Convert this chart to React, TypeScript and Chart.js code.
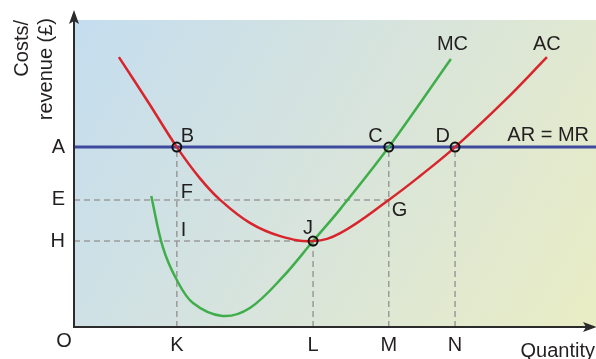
import React, { useEffect, useRef } from 'react';
import { Chart, registerables } from 'chart.js';

Chart.register(...registerables);

const FONT = '"Liberation Sans", Arial, Helvetica, sans-serif';
const TEXT = '#231f20';

// Quantity positions (x) and cost/revenue levels (y)
const xTickValues = [19.7, 45.8, 60.3, 73.0];
const xTickLabels = ['K', 'L', 'M', 'N'];
const yTickValues = [58.6, 41.4, 28.0];
const yTickLabels = ['A', 'E', 'H'];

// Average cost curve (AC)
const acX = [8.6, 14.2, 19.7, 24.1, 28.0, 33.7, 39.5, 45.8, 51.0, 60.3, 66.3, 73.0, 82.6, 90.6];
const acY = [87.9, 73.3, 58.6, 48.5, 41.4, 33.9, 29.6, 28.0, 30.6, 41.4, 49.2, 58.6, 73.9, 87.9];

// Marginal cost curve (MC)
const mcX = [14.8, 17.0, 19.7, 22.8, 28.4, 33.7, 40.0, 45.8, 51.0, 60.3, 72.2];
const mcY = [42.7, 26.1, 15.3, 7.8, 3.6, 6.2, 16.3, 28.0, 38.4, 58.6, 87.3];

// AR = MR price line
const arX = [0, 100];
const arY = [58.6, 58.6];

const [K, L, M, N] = xTickValues;
const [A, E, H] = yTickValues;

// Marked points B, C, D, J
const markX = [K, M, N, L];
const markY = [A, A, A, H];

// Text labels anchored to data points (value coords) with pixel nudges
const labelText = ['B', 'C', 'D', 'F', 'G', 'I', 'J', 'MC', 'AC', 'AR = MR'];
const labelX = [K, M, N, K, M, K, L, mcX[mcX.length - 1], acX[acX.length - 1], 100];
const labelY = [A, A, A, E, E, H, H, mcY[mcY.length - 1], acY[acY.length - 1], A];
const labelDx = [4, -6, -5, 4, 3, 4, 0, -14, -14, -7];
const labelDy = [-5, -5, -5, -2, 16, -5, -7, -9, -7, -6];
const labelAlign: CanvasTextAlign[] = ['left', 'right', 'right', 'left', 'left', 'left', 'right', 'left', 'left', 'right'];

const pts = (xs: number[], ys: number[]) => xs.map((x, i) => ({ x, y: ys[i] }));

const dashed = (a: { x: number; y: number }, b: { x: number; y: number }) => ({
  data: [a, b],
  borderColor: '#9a9a9a',
  borderWidth: 1.5,
  borderDash: [6, 4],
  pointRadius: 0,
  order: 4,
});

export default function App() {
  const ref = useRef<HTMLCanvasElement>(null);

  useEffect(() => {
    const canvas = ref.current!;
    const decor = {
      id: 'decor',
      beforeDraw(chart: any) {
        const { ctx, chartArea } = chart;
        const g = ctx.createLinearGradient(chartArea.left, chartArea.top, chartArea.right, chartArea.bottom);
        g.addColorStop(0, '#c4ddef');
        g.addColorStop(0.5, '#d8e4dc');
        g.addColorStop(1, '#e9edc4');
        ctx.save();
        ctx.fillStyle = g;
        ctx.fillRect(chartArea.left, chartArea.top, chartArea.right - chartArea.left, chartArea.bottom - chartArea.top);
        ctx.restore();
      },
      afterDraw(chart: any) {
        const { ctx, chartArea, scales } = chart;
        const x0 = chartArea.left;
        const y0 = chartArea.bottom;
        ctx.save();
        ctx.strokeStyle = '#2b2b2b';
        ctx.fillStyle = '#2b2b2b';
        ctx.lineWidth = 2;
        ctx.beginPath();
        ctx.moveTo(x0, y0 + 1);
        ctx.lineTo(x0, 20);
        ctx.moveTo(x0 - 1, y0);
        ctx.lineTo(chartArea.right - 8, y0);
        ctx.stroke();
        // y arrow
        ctx.beginPath();
        ctx.moveTo(x0, 10);
        ctx.lineTo(x0 - 5, 24);
        ctx.lineTo(x0, 21);
        ctx.lineTo(x0 + 5, 24);
        ctx.closePath();
        ctx.fill();
        // x arrow
        const xr = chartArea.right;
        ctx.beginPath();
        ctx.moveTo(xr + 1, y0);
        ctx.lineTo(xr - 13, y0 - 5);
        ctx.lineTo(xr - 10, y0);
        ctx.lineTo(xr - 13, y0 + 5);
        ctx.closePath();
        ctx.fill();

        ctx.fillStyle = TEXT;
        ctx.font = `20px ${FONT}`;
        ctx.textBaseline = 'alphabetic';
        ctx.textAlign = 'center';
        ctx.fillText('O', 64, 347);
        ctx.textAlign = 'right';
        ctx.fillText('Quantity', 595, 357);
        ctx.save();
        ctx.translate(28, 20);
        ctx.rotate(-Math.PI / 2);
        ctx.textAlign = 'right';
        ctx.fillText('Costs/', 0, 0);
        ctx.restore();
        ctx.save();
        ctx.translate(52, 18);
        ctx.rotate(-Math.PI / 2);
        ctx.textAlign = 'right';
        ctx.fillText('revenue (£)', 0, 0);
        ctx.restore();

        labelText.forEach((t, i) => {
          const px = scales.x.getPixelForValue(labelX[i]) + labelDx[i];
          const py = scales.y.getPixelForValue(labelY[i]) + labelDy[i];
          ctx.textAlign = labelAlign[i];
          ctx.fillText(t, px, py);
        });
        ctx.restore();
      },
    };

    const chart = new Chart(canvas, {
      type: 'line',
      data: {
        datasets: [
          {
            data: pts(markX, markY),
            showLine: false,
            pointRadius: 4.5,
            pointBorderWidth: 2,
            pointBorderColor: '#111111',
            pointBackgroundColor: 'rgba(255,255,255,0)',
            order: 0,
          } as any,
          {
            data: pts(acX, acY),
            borderColor: '#d8252c',
            borderWidth: 2.5,
            pointRadius: 0,
            tension: 0.4,
            order: 1,
          },
          {
            data: pts(mcX, mcY),
            borderColor: '#3fae4a',
            borderWidth: 2.5,
            pointRadius: 0,
            tension: 0.35,
            order: 2,
          },
          {
            data: pts(arX, arY),
            borderColor: '#3e4a9e',
            borderWidth: 3,
            pointRadius: 0,
            order: 3,
          },
          dashed({ x: K, y: 0 }, { x: K, y: A }),
          dashed({ x: L, y: 0 }, { x: L, y: H }),
          dashed({ x: M, y: 0 }, { x: M, y: A }),
          dashed({ x: N, y: 0 }, { x: N, y: A }),
          dashed({ x: 0, y: E }, { x: M, y: E }),
          dashed({ x: 0, y: H }, { x: L, y: H }),
        ] as any,
      },
      options: {
        animation: false,
        responsive: false,
        devicePixelRatio: 1,
        layout: { autoPadding: false, padding: { top: 20, right: 0, left: 0, bottom: 0 } },
        plugins: { legend: { display: false }, tooltip: { enabled: false } },
        scales: {
          x: {
            type: 'linear',
            min: 0,
            max: 100,
            grid: { display: false, drawTicks: false },
            border: { display: false },
            afterFit: (s: any) => {
              s.height = 32;
              s.paddingLeft = 0;
              s.paddingRight = 0;
            },
            afterBuildTicks: (s: any) => {
              s.ticks = xTickValues.map((v) => ({ value: v }));
            },
            ticks: {
              autoSkip: false,
              maxRotation: 0,
              padding: 6,
              color: TEXT,
              font: { size: 20, family: FONT },
              callback: (_v: any, i: number) => xTickLabels[i],
            },
          },
          y: {
            type: 'linear',
            min: 0,
            max: 100,
            grid: { display: false, drawTicks: false },
            border: { display: false },
            afterFit: (s: any) => {
              s.width = 74;
              s.paddingTop = 0;
              s.paddingBottom = 0;
            },
            afterBuildTicks: (s: any) => {
              s.ticks = yTickValues.map((v) => ({ value: v }));
            },
            ticks: {
              autoSkip: false,
              padding: 9,
              color: TEXT,
              font: { size: 20, family: FONT },
              callback: (_v: any, i: number) => yTickLabels[i],
            },
          },
        },
      } as any,
      plugins: [decor],
    });
    return () => chart.destroy();
  }, []);

  return (
    <div style={{ position: 'fixed', left: 0, top: 0, width: 596, height: 359, background: '#ffffff' }}>
      <canvas ref={ref} width={596} height={359} style={{ display: 'block' }} />
    </div>
  );
}
